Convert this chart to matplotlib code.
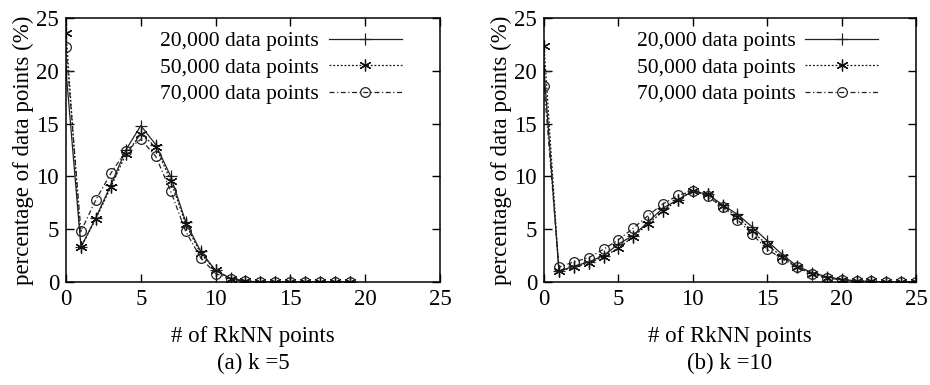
import matplotlib
matplotlib.use('Agg')
import matplotlib.pyplot as plt

plt.rcParams['font.family'] = ['Liberation Serif', 'DejaVu Serif']
plt.rcParams['mathtext.fontset'] = 'stix'

series_names = ['20,000 data points', '50,000 data points', '70,000 data points']

# k = 5
x_k5 = list(range(20))
k5_20k = [20.0, 3.3, 6.1, 9.2, 12.5, 14.8, 13.0, 10.0, 5.7, 2.9, 1.1, 0.35, 0.1,
          0.0, 0.0, 0.0, 0.0, 0.0, 0.0, 0.0]
k5_50k = [23.6, 3.3, 6.0, 9.0, 12.1, 14.0, 12.8, 9.6, 5.5, 2.7, 1.1, 0.3, 0.05,
          0.0, 0.0, 0.0, 0.0, 0.0, 0.0, 0.0]
k5_70k = [22.2, 4.8, 7.8, 10.3, 12.4, 13.5, 11.9, 8.6, 4.8, 2.3, 0.8, 0.3, 0.05,
          0.0, 0.0, 0.0, 0.0, 0.0, 0.0, 0.0]

# k = 10
x_k10 = list(range(26))
k10_20k = [20.0, 1.0, 1.5, 1.9, 2.5, 3.6, 4.4, 5.7, 7.0, 7.8, 8.6, 8.3, 7.3, 6.4,
           5.2, 3.9, 2.6, 1.5, 0.9, 0.5, 0.25, 0.1, 0.05, 0.0, 0.0, 0.0]
k10_50k = [22.3, 1.0, 1.4, 1.8, 2.4, 3.2, 4.3, 5.5, 6.7, 7.8, 8.6, 8.3, 7.2, 6.2,
           4.8, 3.5, 2.4, 1.4, 0.8, 0.4, 0.2, 0.1, 0.05, 0.0, 0.0, 0.0]
k10_70k = [18.6, 1.4, 1.9, 2.3, 3.1, 4.0, 5.1, 6.3, 7.4, 8.2, 8.6, 8.1, 7.1, 5.9,
           4.5, 3.1, 2.2, 1.4, 0.8, 0.4, 0.2, 0.1, 0.05, 0.0, 0.0, 0.0]

xticks = [0, 5, 10, 15, 20, 25]
yticks = [0, 5, 10, 15, 20, 25]

styles = [
    dict(linestyle='-', marker='+', markersize=9, color='#222222'),
    dict(linestyle=(0, (1.5, 1.5)), marker=(6, 2, 0), markersize=8.5, color='#111111'),
    dict(linestyle=(0, (4, 2, 1, 2)), marker='o', markersize=7, mfc='none', color='#222222'),
]

fig = plt.figure(figsize=(9.3, 3.85), dpi=100)
ax1 = fig.add_axes([0.071, 0.2675, 0.402, 0.686])
ax2 = fig.add_axes([0.585, 0.2675, 0.400, 0.686])

panels = [
    (ax1, x_k5, [k5_20k, k5_50k, k5_70k], '(a) k =5', 0.272),
    (ax2, x_k10, [k10_20k, k10_50k, k10_70k], '(b) k =10', 0.785),
]

for ax, xs, ys, caption, cx in panels:
    for name, y, st in zip(series_names, ys, styles):
        ax.plot(xs, y, label=name, linewidth=0.9, markeredgewidth=0.9, **st)
    ax.set_xlim(0, 25)
    ax.set_ylim(0, 25)
    ax.set_xticks(xticks)
    ax.set_yticks(yticks)
    ax.tick_params(direction='in', top=True, right=True, length=6, width=1,
                   labelsize=16.5, pad=5)
    for s in ax.spines.values():
        s.set_linewidth(1.1)
    ax.set_ylabel('percentage of data points (%)', fontsize=16.5, labelpad=2)
    ax.legend(loc='upper right', bbox_to_anchor=(0.91, 0.966), frameon=False,
              markerfirst=False, fontsize=15.5, handlelength=3.4, numpoints=1,
              labelspacing=0.3, borderaxespad=0.0, borderpad=0.2,
              handletextpad=0.45)
    fig.text(cx, 0.125, '# of RkNN points', ha='center', va='center', fontsize=16.5)
    fig.text(cx, 0.055, caption, ha='center', va='center', fontsize=16.5)

fig.savefig('out.png', dpi=100)
